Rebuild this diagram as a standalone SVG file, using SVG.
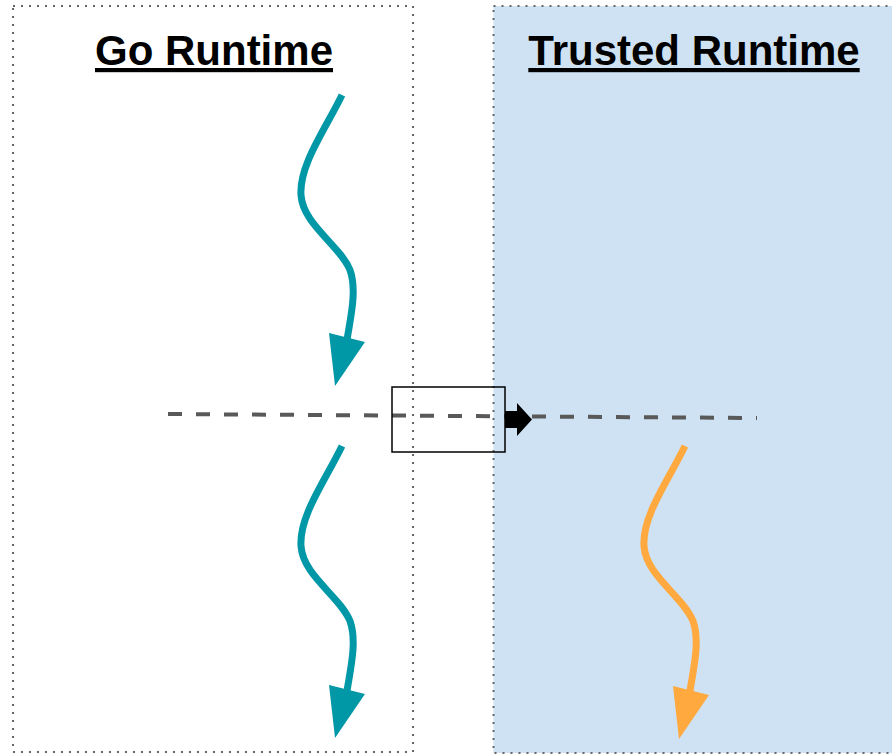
<svg xmlns="http://www.w3.org/2000/svg" width="892" height="755" viewBox="0 0 892 755">
<style>
.panel{stroke:#666;stroke-width:2;stroke-dasharray:2 6}
.title{font-family:"Liberation Sans",Arial,sans-serif;font-weight:bold;font-size:42px;text-decoration:underline;fill:#000}
.wave{fill:none;stroke-width:7}
.teal{stroke:#0097a7}
.tealf{fill:#0097a7}
.orange{stroke:#ffa93f}
.orangef{fill:#ffa93f}
.dash{stroke:#595959;stroke-width:4;stroke-dasharray:14 14;fill:none}
</style>
<defs>
<path id="squig" d="M342,95 C325,130 299,165 301,195 C303,225 340,245 350,270 C357,290 351,315 347,340"/>
<polygon id="head" points="329,333 365,342 335,386"/>
</defs>
<g id="go-runtime">
<rect class="panel" x="13" y="6" width="400" height="746" fill="#ffffff"/>
<text class="title" x="214" y="65" text-anchor="middle">Go Runtime</text>
</g>
<g id="trusted-runtime">
<rect class="panel" x="493.5" y="6" width="420" height="747" fill="#cfe2f3"/>
<text class="title" x="694" y="65" text-anchor="middle">Trusted Runtime</text>
</g>
<g id="connectors">
<use href="#squig" class="wave teal"/>
<use href="#head" class="tealf"/>
<use href="#squig" class="wave teal" transform="translate(0,351)"/>
<use href="#head" class="tealf" transform="translate(0,352)"/>
<use href="#squig" class="wave orange" transform="translate(343,351)"/>
<use href="#head" class="orangef" transform="translate(344,353)"/>
<path class="dash" d="M168,414 L757,418"/>
</g>
<g id="switch">
<rect x="392" y="387" width="113" height="65" fill="none" stroke="#000" stroke-width="1.5"/>
<polygon points="505,411 517,411 517,403 532,419.5 517,436 517,428 505,428" fill="#000"/>
</g>
</svg>
